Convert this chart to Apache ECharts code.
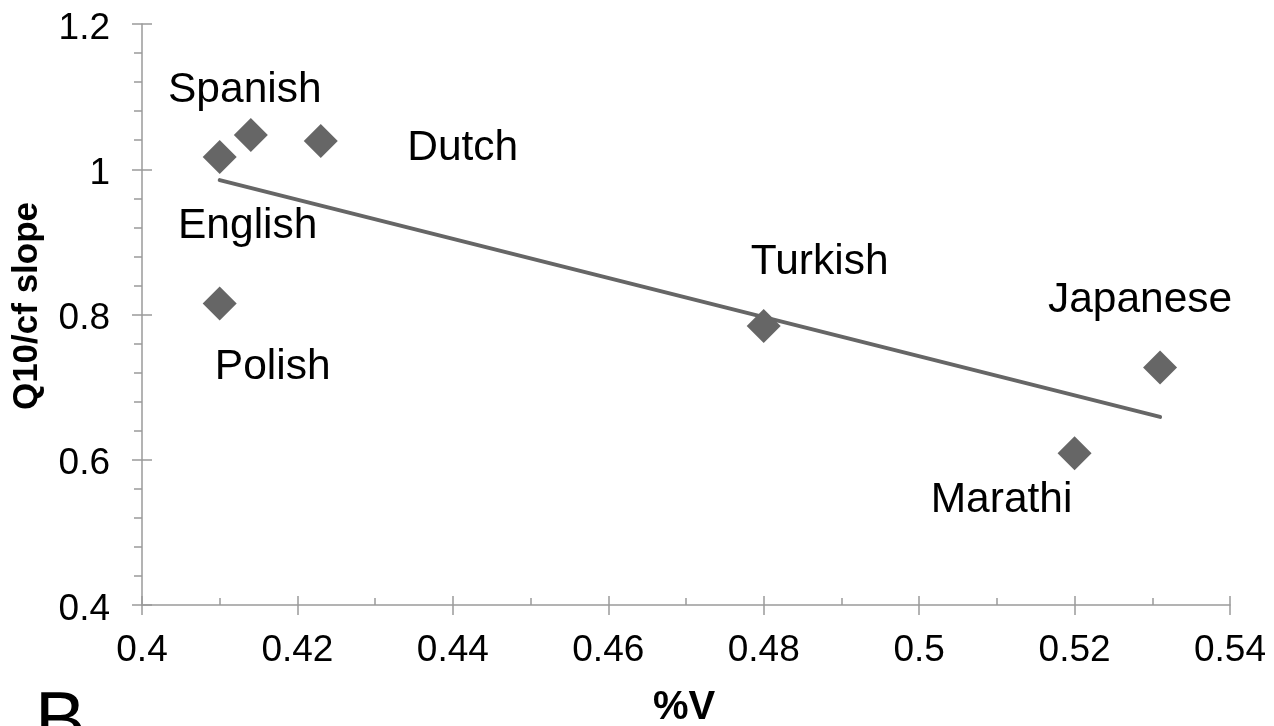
<!DOCTYPE html>
<html>
<head>
<meta charset="utf-8">
<script src="https://cdn.jsdelivr.net/npm/echarts@6/dist/echarts.min.js"></script>
<style>
html,body{margin:0;padding:0;background:#fff;}
#chart{width:1274px;height:726px;}
</style>
</head>
<body>
<div id="chart"></div>
<script>
// ---- data ----
const languages = ['English', 'Spanish', 'Dutch', 'Polish', 'Turkish', 'Japanese', 'Marathi'];
const percentV  = [0.410, 0.414, 0.423, 0.410, 0.480, 0.531, 0.520];
const slopes    = [1.017, 1.047, 1.039, 0.815, 0.784, 0.727, 0.609];
const trendX    = [0.410, 0.531];
const trendY    = [0.985, 0.659];
const xTicks    = [0.4, 0.42, 0.44, 0.46, 0.48, 0.5, 0.52, 0.54];
const yTicks    = [0.4, 0.6, 0.8, 1, 1.2];

// ---- label styling (offsets from marker centre, px) ----
const labelOffsets = {
  English: [28, 69], Spanish: [-6, -45], Dutch: [142, 7], Polish: [53, 64],
  Turkish: [56, -64], Japanese: [-20, -67], Marathi: [-73, 47]
};

const FONT = '"Liberation Sans", Arial, Helvetica, sans-serif';
const GRAY = '#9a9a9a';
const MARK = '#666666';

const scatterData = languages.map((name, i) => ({
  name: name,
  value: [percentV[i], slopes[i]],
  label: { offset: labelOffsets[name] }
}));

const chart = echarts.init(document.getElementById('chart'), null, { renderer: 'canvas' });

const xBase = { type: 'value', min: xTicks[0], max: xTicks[xTicks.length - 1], interval: 0.02, gridIndex: 0, position: 'bottom', splitLine: { show: false } };
const yBase = { type: 'value', min: yTicks[0], max: yTicks[yTicks.length - 1], interval: 0.2, gridIndex: 0, position: 'left', splitLine: { show: false } };

chart.setOption({
  animation: false,
  backgroundColor: '#ffffff',
  grid: { left: 142, right: 44, top: 24, bottom: 121, containLabel: false },
  xAxis: [
    Object.assign({}, xBase, {
      axisLine: { show: true, lineStyle: { color: GRAY, width: 1.5 } },
      axisTick: { show: true, inside: false, length: 10, lineStyle: { color: GRAY, width: 1.5 } },
      minorTick: { show: false },
      axisLabel: { show: true, margin: 27, fontSize: 37, color: '#000', fontFamily: FONT,
        formatter: v => String(+v.toFixed(2)) }
    }),
    Object.assign({}, xBase, {
      axisLine: { show: false },
      axisTick: { show: true, inside: true, length: 9, lineStyle: { color: GRAY, width: 1.5 } },
      minorTick: { show: true, splitNumber: 2, length: 7, lineStyle: { color: GRAY, width: 1.5 } },
      axisLabel: { show: false }
    })
  ],
  yAxis: [
    Object.assign({}, yBase, {
      axisLine: { show: true, lineStyle: { color: GRAY, width: 1.5 } },
      axisTick: { show: true, inside: false, length: 10, lineStyle: { color: GRAY, width: 1.5 } },
      minorTick: { show: true, splitNumber: 5, length: 8, lineStyle: { color: GRAY, width: 1.5 } },
      axisLabel: { show: true, margin: 32, fontSize: 37, color: '#000', fontFamily: FONT,
        verticalAlign: 'top', lineHeight: 9, formatter: v => String(+v.toFixed(1)) }
    }),
    Object.assign({}, yBase, {
      axisLine: { show: false },
      axisTick: { show: true, inside: true, length: 10, lineStyle: { color: GRAY, width: 1.5 } },
      minorTick: { show: false },
      axisLabel: { show: false }
    })
  ],
  series: [
    {
      type: 'line',
      xAxisIndex: 0, yAxisIndex: 0,
      data: trendX.map((x, i) => [x, trendY[i]]),
      symbol: 'none',
      lineStyle: { color: MARK, width: 4, cap: 'round', opacity: 1 },
      z: 2,
      silent: true
    },
    {
      type: 'scatter',
      xAxisIndex: 0, yAxisIndex: 0,
      data: scatterData,
      symbol: 'diamond',
      symbolSize: [34, 34],
      itemStyle: { color: MARK, opacity: 1 },
      z: 3,
      label: {
        show: true,
        position: 'inside',
        formatter: p => p.name,
        fontSize: 42.5,
        fontFamily: FONT,
        color: '#000',
        textBorderWidth: 0,
        align: 'center',
        verticalAlign: 'middle'
      }
    }
  ],
  graphic: [
    { type: 'text', x: 684, y: 708, style: { text: '%V', font: 'bold 40px ' + FONT, fill: '#000', align: 'center', verticalAlign: 'middle' } },
    { type: 'text', x: 27, y: 306, rotation: Math.PI / 2, style: { text: 'Q10/cf slope', font: 'bold 35px ' + FONT, fill: '#000', align: 'center', verticalAlign: 'middle' } },
    { type: 'text', x: 35, y: 724, style: { text: 'B', font: '76px ' + FONT, fill: '#000', align: 'left', verticalAlign: 'middle' } }
  ]
});
</script>
</body>
</html>
